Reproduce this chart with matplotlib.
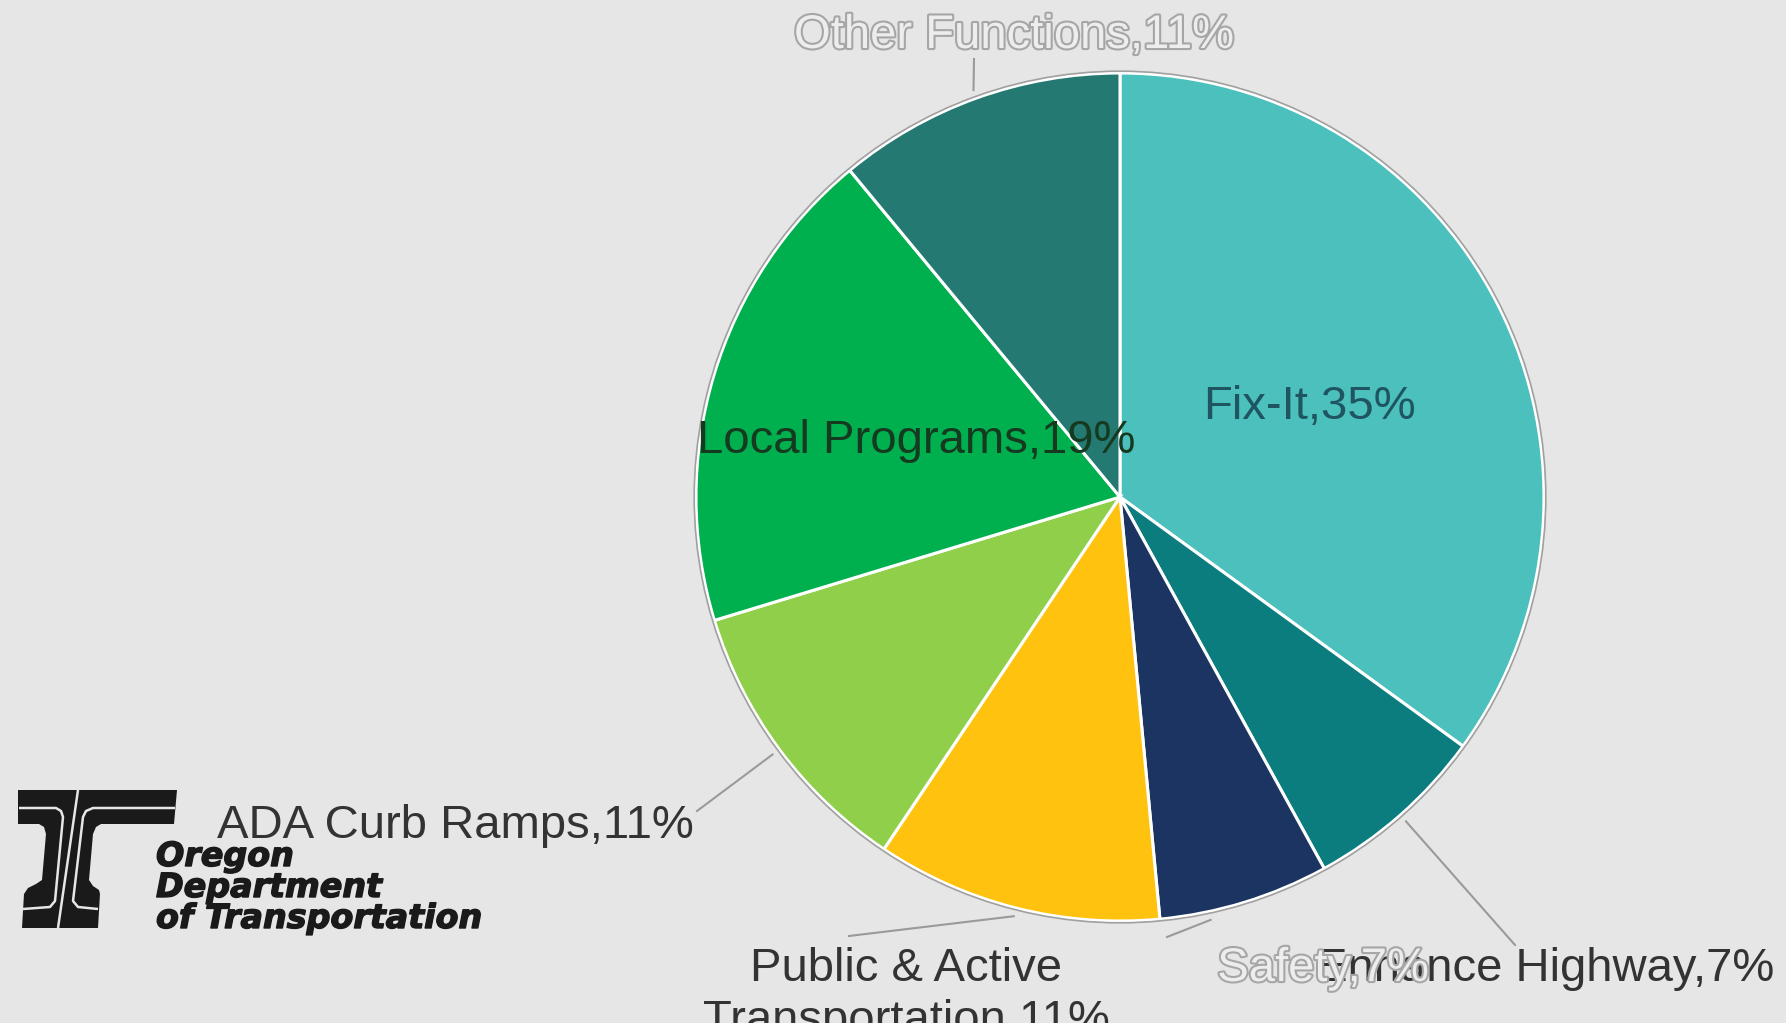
import numpy as np
import matplotlib.pyplot as plt
import matplotlib.patheffects as pe
from matplotlib.patches import Circle, Polygon


W, H = 1786, 1023
BG = '#E6E6E6'

# Budget shares
categories = ['Fix-It', 'Enhance Highway', 'Safety',
              'Public & Active\nTransportation', 'ADA Curb Ramps',
              'Local Programs', 'Other Functions']
shares = [35.0, 7.0, 6.5, 10.9, 10.9, 18.7, 11.0]
share_labels = [35, 7, 7, 11, 11, 19, 11]
colors = ['#4BC0BC', '#0C7D7F', '#1B3461', '#FFC20E',
          '#8FCF4A', '#00B04F', '#247A73']

# Label placement in pixels (x, baseline y from top), leader end or None
label_xy = [(1309, 419), (1545, 981), (1323, 981), (906, 981),
            (455, 838), (916, 453), (1014, 48)]
leader_end = [None, (1515, 945), (1167, 937), (849, 936),
              (697, 811), None, (974, 59)]
leader_shift = [0, 0, -5, 0, 0, 0, 0]   # degrees, nudges the leader start
outlined = [False, False, True, False, False, False, True]
text_colors = ['#1E5560', '#333333', '#EDEDED', '#333333',
               '#333333', '#163A20', '#EDEDED']


def px(x, y):
    # pixel coords (y down) -> data coords (y up)
    return x, H - y


def draw_logo(ax):
    black = [(18, 790), (177, 790), (174, 824), (101, 824), (96, 827),
             (93, 834), (89, 880), (93, 886), (99, 890), (100, 894),
             (98, 928), (22, 928), (24, 894), (28, 888), (36, 884),
             (42, 880), (46, 834), (44, 827), (39, 824), (18, 824)]
    ax.add_patch(Polygon([px(*p) for p in black], closed=True,
                         facecolor='#1A1A1A', edgecolor='none'))
    grey_lines = [
        [(78, 790), (58, 928)],
        [(19, 808), (56, 808), (61, 811), (63, 817), (55, 901),
         (50, 907), (23, 909)],
        [(175, 808), (93, 808), (86, 811), (83, 817), (73, 901),
         (78, 907), (98, 909)],
    ]
    for line in grey_lines:
        xs, ys = zip(*[px(*p) for p in line])
        ax.plot(xs, ys, color=BG, linewidth=1.8, solid_capstyle='butt')
    heavy = [pe.withStroke(linewidth=1.0, foreground='#1A1A1A')]
    for txt, yb in zip(['Oregon', 'Department', 'of Transportation'],
                       [866, 897, 928]):
        ax.text(*px(156, yb), txt, family='DejaVu Sans', weight='bold',
                style='oblique', fontsize=24, color='#1A1A1A',
                ha='left', va='baseline', path_effects=heavy)


if __name__ == '__main__':

    fig = plt.figure(figsize=(W / 100, H / 100), dpi=100, facecolor=BG)
    ax = fig.add_axes([0, 0, 1, 1])

    cx, cy = px(1120, 497)
    r = 424
    wedges, _ = ax.pie(shares, colors=colors, startangle=90,
                       counterclock=False, center=(cx, cy), radius=r,
                       frame=True,
                       wedgeprops=dict(edgecolor='white', linewidth=2.2))
    ax.add_patch(Circle((cx, cy), r + 1.8, fill=False,
                        edgecolor='#A0A0A0', linewidth=1.2))

    # Labels and leader lines
    for w, cat, pct, (lx, ly), end, shift, outl, tc in zip(
            wedges, categories, share_labels, label_xy, leader_end,
            leader_shift, outlined, text_colors):
        if end is not None:
            mid = np.deg2rad((w.theta1 + w.theta2) / 2 + shift)
            sx = cx + 1.02 * r * np.cos(mid)
            sy = cy + 1.02 * r * np.sin(mid)
            ex, ey = px(*end)
            ax.plot([sx, ex], [sy, ey], color='#9A9A9A', linewidth=1.5)

        effects = None
        if outl:
            effects = [pe.withStroke(linewidth=3, foreground='#A6A6A6')]
        lines = f'{cat},{pct}%'.split('\n')
        for i, line in enumerate(lines):
            ax.text(*px(lx, ly + 52 * i), line, family='Liberation Sans',
                    fontsize=34, color=tc, ha='center', va='baseline',
                    path_effects=effects)

    draw_logo(ax)

    ax.set_xlim(0, W)
    ax.set_ylim(0, H)
    ax.axis('off')

    fig.savefig('out.png', dpi=100, facecolor=fig.get_facecolor())
